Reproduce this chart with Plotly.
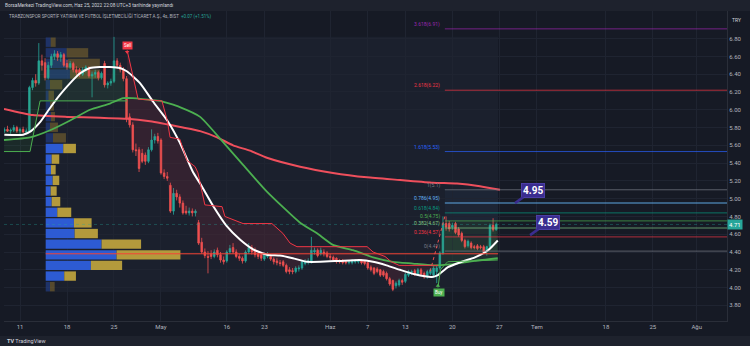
import plotly.graph_objects as go

# ---------------------------------------------------------------------------
# TSPOR 4h bars (3 bars per BIST session day); bar 0 = first bar of 11 Apr 2022
# ---------------------------------------------------------------------------
bars = list(range(-5, 153))

opens = [5.76, 5.78, 5.76, 5.77, 5.80, 5.76, 5.78, 5.75, 5.76, 6.25,
         6.33, 6.30, 6.55, 6.53, 6.36, 6.50, 6.60, 6.63, 6.59, 6.62,
         6.52, 6.48, 6.52, 6.45, 6.45, 6.40, 6.45, 6.47, 6.38, 6.40,
         6.42, 6.36, 6.52, 6.28, 6.30, 6.32, 6.55, 6.50, 6.45, 6.35,
         5.92, 5.83, 5.55, 5.55, 5.51, 5.49, 5.42, 5.55, 5.66, 5.70,
         5.66, 5.29, 5.25, 5.15, 4.86, 5.06, 5.02, 4.95, 4.86, 4.84,
         4.86, 4.84, 4.73, 4.51, 4.40, 4.35, 4.38, 4.35, 4.42, 4.37,
         4.31, 4.30, 4.40, 4.45, 4.40, 4.35, 4.33, 4.30, 4.40, 4.45,
         4.42, 4.38, 4.37, 4.32, 4.35, 4.35, 4.32, 4.30, 4.28, 4.29,
         4.25, 4.20, 4.19, 4.18, 4.21, 4.22, 4.27, 4.29, 4.29, 4.40,
         4.42, 4.38, 4.40, 4.39, 4.35, 4.34, 4.33, 4.30, 4.30, 4.29,
         4.28, 4.28, 4.29, 4.29, 4.30, 4.30, 4.28, 4.23, 4.22, 4.21,
         4.20, 4.18, 4.16, 4.10, 4.08, 4.02, 4.03, 4.08, 4.07, 4.14,
         4.17, 4.19, 4.15, 4.20, 4.16, 4.12, 4.16, 4.14, 4.18, 4.22,
         4.39, 4.72, 4.72, 4.68, 4.72, 4.66, 4.61, 4.53, 4.47, 4.50,
         4.46, 4.47, 4.46, 4.46, 4.42, 4.46, 4.70, 4.65]

highs = [5.80, 5.82, 5.79, 5.83, 5.82, 5.80, 5.81, 5.79, 6.27, 6.36,
         6.40, 6.75, 6.62, 6.58, 6.54, 6.63, 6.67, 6.66, 6.65, 6.64,
         6.56, 6.55, 6.54, 6.49, 6.47, 6.48, 6.50, 6.49, 6.43, 6.45,
         6.44, 6.43, 6.55, 6.32, 6.35, 6.82, 6.58, 6.53, 6.48, 6.38,
         5.96, 5.86, 5.62, 5.58, 5.56, 5.52, 5.58, 5.78, 5.73, 5.74,
         5.68, 5.33, 5.30, 5.18, 5.12, 5.10, 5.05, 4.98, 4.92, 4.90,
         4.89, 4.88, 4.76, 4.56, 4.44, 4.41, 4.42, 4.43, 4.45, 4.40,
         4.35, 4.42, 4.48, 4.50, 4.43, 4.38, 4.35, 4.42, 4.50, 4.48,
         4.45, 4.41, 4.39, 4.39, 4.40, 4.37, 4.34, 4.33, 4.31, 4.31,
         4.27, 4.23, 4.22, 4.24, 4.25, 4.31, 4.32, 4.33, 4.57, 4.45,
         4.44, 4.45, 4.43, 4.41, 4.38, 4.36, 4.34, 4.32, 4.32, 4.31,
         4.31, 4.32, 4.32, 4.32, 4.32, 4.31, 4.29, 4.25, 4.23, 4.23,
         4.21, 4.20, 4.18, 4.12, 4.09, 4.07, 4.10, 4.10, 4.17, 4.20,
         4.20, 4.21, 4.22, 4.22, 4.18, 4.20, 4.22, 4.24, 4.25, 4.41,
         4.80, 4.80, 4.75, 4.73, 4.74, 4.68, 4.63, 4.55, 4.54, 4.52,
         4.48, 4.49, 4.48, 4.48, 4.47, 4.72, 4.78, 4.73]

lows = [5.74, 5.75, 5.73, 5.75, 5.74, 5.72, 5.74, 5.72, 5.75, 6.22,
        6.26, 6.28, 6.44, 6.33, 6.34, 6.47, 6.56, 6.55, 6.54, 6.48,
        6.45, 6.46, 6.42, 6.39, 6.37, 6.38, 6.42, 6.36, 6.14, 6.36,
        6.33, 6.34, 6.25, 6.24, 6.27, 6.30, 6.46, 6.42, 6.32, 5.86,
        5.80, 5.52, 5.48, 5.30, 5.40, 5.38, 5.40, 5.53, 5.62, 5.62,
        5.27, 5.22, 5.20, 4.84, 4.82, 4.98, 4.90, 4.82, 4.82, 4.81,
        4.80, 4.80, 4.48, 4.38, 4.33, 4.16, 4.32, 4.33, 4.34, 4.28,
        4.26, 4.28, 4.38, 4.38, 4.33, 4.30, 4.27, 4.28, 4.38, 4.37,
        4.34, 4.32, 4.30, 4.30, 4.33, 4.30, 4.26, 4.25, 4.24, 4.23,
        4.16, 4.15, 4.15, 4.16, 4.18, 4.20, 4.25, 4.26, 4.27, 4.37,
        4.34, 4.36, 4.35, 4.33, 4.31, 4.29, 4.27, 4.27, 4.26, 4.26,
        4.26, 4.26, 4.27, 4.27, 4.26, 4.25, 4.20, 4.18, 4.14, 4.16,
        4.12, 4.12, 4.08, 4.02, 3.96, 3.99, 4.01, 4.03, 4.05, 4.12,
        4.14, 4.13, 4.13, 4.13, 4.10, 4.10, 4.14, 4.11, 4.05, 4.20,
        4.37, 4.64, 4.63, 4.65, 4.60, 4.57, 4.51, 4.44, 4.45, 4.43,
        4.43, 4.42, 4.43, 4.38, 4.36, 4.45, 4.63, 4.64]

closes = [5.78, 5.76, 5.77, 5.80, 5.76, 5.78, 5.75, 5.76, 6.25, 6.33,
          6.30, 6.55, 6.50, 6.36, 6.50, 6.60, 6.63, 6.59, 6.62, 6.50,
          6.48, 6.52, 6.45, 6.42, 6.40, 6.45, 6.48, 6.38, 6.40, 6.42,
          6.36, 6.41, 6.28, 6.30, 6.32, 6.55, 6.50, 6.45, 6.35, 5.90,
          5.83, 5.55, 5.54, 5.34, 5.42, 5.42, 5.55, 5.66, 5.70, 5.65,
          5.29, 5.25, 5.23, 4.86, 5.06, 5.02, 4.95, 4.84, 4.84, 4.86,
          4.84, 4.86, 4.50, 4.40, 4.36, 4.34, 4.35, 4.40, 4.37, 4.31,
          4.29, 4.40, 4.44, 4.40, 4.35, 4.33, 4.30, 4.40, 4.45, 4.40,
          4.37, 4.35, 4.33, 4.37, 4.38, 4.32, 4.29, 4.28, 4.27, 4.25,
          4.18, 4.18, 4.18, 4.22, 4.22, 4.29, 4.29, 4.30, 4.42, 4.42,
          4.36, 4.42, 4.38, 4.35, 4.34, 4.31, 4.29, 4.29, 4.28, 4.28,
          4.29, 4.30, 4.30, 4.30, 4.28, 4.27, 4.22, 4.20, 4.16, 4.18,
          4.14, 4.14, 4.10, 4.04, 3.98, 4.05, 4.08, 4.06, 4.15, 4.18,
          4.18, 4.15, 4.20, 4.15, 4.12, 4.18, 4.20, 4.22, 4.22, 4.39,
          4.72, 4.68, 4.66, 4.70, 4.62, 4.59, 4.53, 4.46, 4.52, 4.45,
          4.45, 4.44, 4.45, 4.40, 4.46, 4.70, 4.65, 4.71]

# time axis labels (bar index of the labelled session)
tick_bars = [0, 15, 30, 45, 66, 78, 99, 111, 123, 138, 153, 165, 187, 202, 216]
tick_text = ["11", "18", "25", "May", "16", "23", "Haz", "7", "13", "20", "27",
             "Tem", "18", "25", "Ağu"]
price_ticks = [3.8, 4.0, 4.2, 4.4, 4.6, 4.8, 5.0, 5.2, 5.4, 5.6, 5.8, 6.0, 6.2, 6.4, 6.6, 6.8]

# moving averages (bar index, value)
ma_fast_x = [-5, 1, 3.5, 6.4, 9.6, 12.8, 16, 19.2, 22.3, 25.5, 28.7, 31.9, 34.2, 38.3,
             42.5, 47, 51, 55.2, 57.5, 61.6, 66, 70.2, 74.4, 78.8, 83, 87.1, 91.6,
             95.8, 102, 108.5, 112.7, 117, 121.3, 126, 131.5, 133.4, 136.6, 141,
             145.2, 149.4, 152.5]
ma_fast_y = [5.72, 5.72, 5.76, 5.86, 6.02, 6.17, 6.30, 6.41, 6.47, 6.48, 6.48, 6.47, 6.43, 6.30,
             6.09, 5.88, 5.63, 5.30, 5.17, 4.92, 4.69, 4.54, 4.43, 4.37, 4.36, 4.33, 4.29,
             4.29, 4.30, 4.31, 4.29, 4.25, 4.20, 4.15, 4.12, 4.14, 4.23, 4.29,
             4.34, 4.42, 4.53]

ma_mid_x = [-5.1, 3.2, 9.6, 16, 22.3, 28.7, 32.9, 36, 41.5, 44.7, 51, 57.5, 64,
            71.2, 78.8, 89.4, 94.8, 99.9, 106.3, 112.7, 119, 125.4, 131.8, 137.2, 145, 152.5]
ma_mid_y = [5.66, 5.69, 5.77, 5.88, 6.00, 6.07, 6.13, 6.13, 6.11, 6.10, 6.03, 5.92, 5.67,
            5.38, 5.08, 4.73, 4.61, 4.48, 4.42, 4.34, 4.29, 4.27, 4.25, 4.26, 4.30, 4.33]

ma_slow_x = [-5.1, 4.1, 15, 25.5, 34.2, 41.5, 52, 57.5, 62.9, 68, 73.4, 78.8, 89.4,
             99.9, 110.8, 121.3, 131.8, 139.5, 146.8, 153.2]
ma_slow_y = [6.01, 5.94, 5.92, 5.91, 5.90, 5.87, 5.80, 5.76, 5.69, 5.60, 5.54, 5.46, 5.36,
             5.29, 5.24, 5.21, 5.18, 5.17, 5.14, 5.10]

# trailing stop (trend) line: three legs
stop_up1_x = [-5.1, 3.2, 6.4, 34.2]
stop_up1_y = [5.53, 5.53, 6.10, 6.10]
stop_dn_x = [34.2, 37.7, 45.3, 47, 47.9, 51, 53.3, 55.9, 56.8, 59, 64.5, 65.4, 71.2,
             80.4, 83.9, 86.2, 88.4, 110.8, 112.7, 116.5, 118.5, 121, 133.4]
stop_dn_y = [6.67, 6.12, 6.10, 5.88, 5.69, 5.67, 5.43, 5.36, 5.29, 4.93, 4.91, 4.80, 4.72,
             4.72, 4.61, 4.50, 4.46, 4.46, 4.40, 4.35, 4.29, 4.25, 4.25]
stop_up2_x = [133.4, 134.2, 135.4, 136.5, 152.5]
stop_up2_y = [4.00, 4.20, 4.25, 4.29, 4.31]
sell_at = (34.2, 6.65)
buy_at = (133.4, 4.02)

# fixed-range volume profile (24 rows)
vp_price_lo, vp_price_hi = 3.95, 6.82
vp_up = [4.3, 18.6, 45.3, 71.0, 56.0, 29.0, 28.3, 11.6, 6.0, 5.0, 7.0, 5.3,
         6.0, 17.6, 7.3, 4.3, 5.3, 4.3, 2.8, 4.3, 24.3, 22.3, 21.0, 5.0]
vp_down = [4.7, 11.7, 31.3, 64.0, 39.6, 23.3, 17.7, 14.0, 8.6, 6.0, 6.6, 4.7,
           7.6, 12.7, 13.0, 8.0, 4.0, 4.0, 5.5, 12.3, 30.0, 32.0, 21.6, 5.0]
value_area = (4.07, 5.63)
poc_price = 4.38
vp_first_bar, vp_last_bar = 8.2, 152.6

# fibonacci levels
fib_ratio = [0, 0.236, 0.382, 0.5, 0.618, 0.786, 1, 1.618, 2.618, 3.618]
fib_price = [4.41, 4.57, 4.67, 4.75, 4.84, 4.95, 5.1, 5.53, 6.22, 6.91]
fib_color = ["#787b86", "#f23645", "#81c784", "#4caf50", "#089981", "#64b5f6",
             "#787b86", "#2962ff", "#f23645", "#9c27b0"]
fib_start_bar = 135.6
fib_end_bar = 152.6
trend_from = (130.9, 4.18)
trend_to = (135.6, 4.80)

last_price = 4.71
change_text = "+0.07 (+1.51%)"
callouts = [(158.0, 4.95, "4.95"), (162.8, 4.59, "4.59")]

# ---------------------------------------------------------------------------
BG = "#161a25"
GRID = "#1f2431"
TXT = "#b2b5be"
FONT = "Roboto"
UP, DN = "#26a69a", "#ef5350"

W, H = 750, 346
ML, MR, MT, MB = 4, 23, 11, 25
PW, PH = W - ML - MR, H - MT - MB
X_RANGE = [-5.107, 225.66]
Y_RANGE = [3.624, 7.111]


def px_x(px):
    return (px - ML) / PW


def px_y(py):
    return (H - MB - py) / PH


fig = go.Figure()

# volume profile rows
n_rows = len(vp_up)
row_h = (vp_price_hi - vp_price_lo) / n_rows
row_mid = [vp_price_lo + row_h * (k + 0.5) for k in range(n_rows)]
in_va = [value_area[0] <= m <= value_area[1] for m in row_mid]
vp_scale = 43.0 / max(u + d for u, d in zip(vp_up, vp_down))
up_w = [u * vp_scale for u in vp_up]
dn_w = [d * vp_scale for d in vp_down]
fig.add_trace(go.Bar(
    y=row_mid, x=up_w, base=[vp_first_bar] * n_rows, orientation="h", width=row_h * 0.88,
    marker=dict(color=["#2d5bd3" if v else "rgba(41,98,255,0.28)" for v in in_va], line_width=0),
    hoverinfo="skip", showlegend=False))
fig.add_trace(go.Bar(
    y=row_mid, x=dn_w, base=[vp_first_bar + w for w in up_w], orientation="h", width=row_h * 0.88,
    marker=dict(color=["#b39a3c" if v else "rgba(251,192,45,0.26)" for v in in_va], line_width=0),
    hoverinfo="skip", showlegend=False))


# trailing-stop shading between stop line and closes
def stop_fill(sx, sy, b0, b1, color):
    seg = [b for b in bars if b0 <= b <= b1]
    cl = [closes[bars.index(b)] for b in seg]
    fig.add_trace(go.Scatter(
        x=list(sx) + seg[::-1], y=list(sy) + cl[::-1], fill="toself", fillcolor=color,
        mode="none", hoverinfo="skip", showlegend=False))


stop_fill(stop_up1_x, stop_up1_y, -5, 34, "rgba(76,175,80,0.11)")
stop_fill(stop_dn_x, stop_dn_y, 34, 133, "rgba(242,54,69,0.11)")
stop_fill(stop_up2_x, stop_up2_y, 133, 152, "rgba(76,175,80,0.11)")

# candles
fig.add_trace(go.Candlestick(
    x=bars, open=opens, high=highs, low=lows, close=closes,
    increasing=dict(line=dict(color=UP, width=0.8), fillcolor=UP),
    decreasing=dict(line=dict(color=DN, width=0.8), fillcolor=DN),
    whiskerwidth=0, hoverinfo="skip", showlegend=False))

# moving averages
fig.add_trace(go.Scatter(x=ma_slow_x, y=ma_slow_y, mode="lines",
                         line=dict(color="#ef4f5c", width=2, shape="spline", smoothing=0.5),
                         hoverinfo="skip", showlegend=False))
fig.add_trace(go.Scatter(x=ma_mid_x, y=ma_mid_y, mode="lines",
                         line=dict(color="#4caf50", width=1.8, shape="spline", smoothing=0.5),
                         hoverinfo="skip", showlegend=False))
fig.add_trace(go.Scatter(x=ma_fast_x, y=ma_fast_y, mode="lines",
                         line=dict(color="#ffffff", width=2, shape="spline", smoothing=0.5),
                         hoverinfo="skip", showlegend=False))

# trailing stop lines
for sx, sy, col in [(stop_up1_x, stop_up1_y, "#4caf50"), (stop_dn_x, stop_dn_y, "#f23645"),
                    (stop_up2_x, stop_up2_y, "#4caf50")]:
    fig.add_trace(go.Scatter(x=sx, y=sy, mode="lines", line=dict(color=col, width=1),
                             hoverinfo="skip", showlegend=False))

# signal pointers
fig.add_trace(go.Scatter(x=[sell_at[0]], y=[sell_at[1]], mode="markers",
                         marker=dict(symbol="triangle-down", size=4, color="#f23645"),
                         hoverinfo="skip", showlegend=False))
fig.add_trace(go.Scatter(x=[buy_at[0]], y=[buy_at[1]], mode="markers",
                         marker=dict(symbol="triangle-up", size=4, color="#4caf50"),
                         hoverinfo="skip", showlegend=False))

shapes = []
# volume profile range box
shapes.append(dict(type="rect", xref="x", yref="y", x0=vp_first_bar, x1=vp_last_bar,
                   y0=vp_price_lo, y1=vp_price_hi, fillcolor="rgba(140,160,200,0.05)",
                   line_width=0, layer="below"))
# fib background between 0 and 0.5, and 0.5 to 1
shapes.append(dict(type="rect", xref="x", yref="y", x0=fib_start_bar, x1=fib_end_bar,
                   y0=fib_price[0], y1=fib_price[3], fillcolor="rgba(76,175,80,0.10)",
                   line_width=0, layer="below"))
shapes.append(dict(type="rect", xref="x", yref="y", x0=fib_start_bar, x1=fib_end_bar,
                   y0=fib_price[3], y1=fib_price[6], fillcolor="rgba(100,181,246,0.04)",
                   line_width=0, layer="below"))
# point of control
shapes.append(dict(type="line", xref="x", yref="y", x0=vp_first_bar, x1=vp_last_bar,
                   y0=poc_price, y1=poc_price, line=dict(color="#f44336", width=1)))
# last price line
shapes.append(dict(type="line", xref="paper", yref="y", x0=0, x1=1, y0=last_price, y1=last_price,
                   line=dict(color="rgba(38,166,154,0.35)", width=1, dash="dot")))
# fib levels
for r, p, c in zip(fib_ratio, fib_price, fib_color):
    wd, op = (2, 0.45) if r == 0.786 else (1, 0.7)
    shapes.append(dict(type="line", xref="x", yref="y", x0=fib_start_bar, x1=X_RANGE[1],
                       y0=p, y1=p, line=dict(color=c, width=wd), opacity=op))
# fib trend line
shapes.append(dict(type="line", xref="x", yref="y", x0=trend_from[0], y0=trend_from[1],
                   x1=trend_to[0], y1=trend_to[1], line=dict(color="#ef5350", width=1, dash="dot")))
# header and footer strips
shapes.append(dict(type="rect", xref="paper", yref="paper", x0=px_x(0), x1=px_x(W),
                   y0=px_y(0), y1=px_y(MT), fillcolor="#1e222d", line_width=0))
shapes.append(dict(type="rect", xref="paper", yref="paper", x0=px_x(0), x1=px_x(W),
                   y0=px_y(336), y1=px_y(H), fillcolor="#1e222d", line_width=0))

annotations = []
for r, p, c in zip(fib_ratio, fib_price, fib_color):
    annotations.append(dict(x=134.4, y=p, xref="x", yref="y", xanchor="right", yanchor="bottom",
                            text=f"{r:g}({p:g})", showarrow=False,
                            font=dict(family=FONT, size=5, color=c), borderpad=0))

for bx, by, txt in callouts:
    annotations.append(dict(x=bx, y=by, xref="x", yref="y", text=f"<b>{txt}</b>",
                            showarrow=True, arrowhead=0, arrowwidth=2.5, arrowcolor="#3a2d8f",
                            ax=18, ay=-13, bgcolor="#3a2d8f", bordercolor="#4b3ea6", borderwidth=1,
                            borderpad=1, font=dict(family=FONT, size=10, color="#ffffff")))

annotations.append(dict(x=sell_at[0], y=sell_at[1], xref="x", yref="y", yanchor="bottom", yshift=2,
                        text="Sell", showarrow=False, bgcolor="#f23645", borderpad=1,
                        font=dict(family=FONT, size=4.5, color="#ffffff")))
annotations.append(dict(x=buy_at[0] + 0.4, y=buy_at[1], xref="x", yref="y", yanchor="top", yshift=-2,
                        text="Buy", showarrow=False, bgcolor="#4caf50", borderpad=1,
                        font=dict(family=FONT, size=4.5, color="#ffffff")))

# last price tag on the scale
annotations.append(dict(x=1.0, y=last_price, xref="paper", yref="y", xanchor="left",
                        text=f"{last_price:.2f}", showarrow=False, bgcolor=UP, borderpad=1,
                        font=dict(family=FONT, size=6, color="#ffffff")))
annotations.append(dict(x=px_x(730), y=px_y(15), xref="paper", yref="paper", xanchor="left",
                        text="TRY", showarrow=False, font=dict(family=FONT, size=5, color="#d1d4dc")))

# header texts
annotations.append(dict(x=px_x(3), y=px_y(5.7), xref="paper", yref="paper", xanchor="left",
                        yanchor="middle", showarrow=False,
                        text="BorsaMerkezi TradingView.com, Haz 25, 2022 22:08 UTC+3 tarihinde yayınlandı",
                        font=dict(family=FONT, size=4.8, color="#d1d4dc")))
annotations.append(dict(x=px_x(7), y=px_y(16.7), xref="paper", yref="paper", xanchor="left",
                        yanchor="middle", showarrow=False,
                        text="TRABZONSPOR SPORTİF YATIRIM VE FUTBOL İŞLETMECİLİĞİ TİCARET A.Ş., 4s, BIST  "
                             f"<span style='color:{UP}'>{change_text}</span>",
                        font=dict(family=FONT, size=4.5, color="#b2b5be")))
annotations.append(dict(x=px_x(5), y=px_y(341), xref="paper", yref="paper", xanchor="left",
                        yanchor="middle", showarrow=False, text="<b>TV</b> TradingView",
                        font=dict(family=FONT, size=5.5, color="#d1d4dc")))

fig.update_layout(
    width=W, height=H, margin=dict(l=ML, r=MR, t=MT, b=MB),
    paper_bgcolor=BG, plot_bgcolor=BG, barmode="overlay", showlegend=False,
    shapes=shapes, annotations=annotations,
    xaxis=dict(range=X_RANGE, tickvals=tick_bars, ticktext=tick_text, showgrid=True,
               gridcolor=GRID, gridwidth=1, zeroline=False, rangeslider=dict(visible=False),
               tickfont=dict(family=FONT, size=6, color=TXT), ticks="", showline=True,
               linecolor="#2a2e39", fixedrange=True),
    yaxis=dict(range=Y_RANGE, side="right", tickvals=price_ticks,
               ticktext=[f"{v:.2f}" for v in price_ticks], showgrid=True, gridcolor=GRID,
               zeroline=False, tickfont=dict(family=FONT, size=6, color=TXT), ticks="",
               showline=True, linecolor="#2a2e39", fixedrange=True),
)

fig.write_html("out.html")
